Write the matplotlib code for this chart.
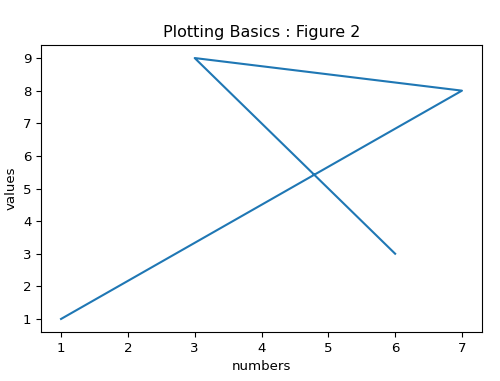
import matplotlib
matplotlib.use("Agg")
import matplotlib.pyplot as plt

numbers = [1, 7, 3, 6]
values = [1, 8, 9, 3]

plt.rcParams['font.size'] = 9.6

fig = plt.figure(figsize=(5.0, 3.81), dpi=100)
ax = fig.add_axes((41 / 500, 1 - 332 / 381, (482 - 41) / 500, (332 - 45) / 381))
ax.plot(numbers, values)
ax.set_title("Plotting Basics : Figure 2")
ax.set_xlabel("numbers")
ax.set_ylabel("values")

fig.savefig("out.png", dpi=100)
